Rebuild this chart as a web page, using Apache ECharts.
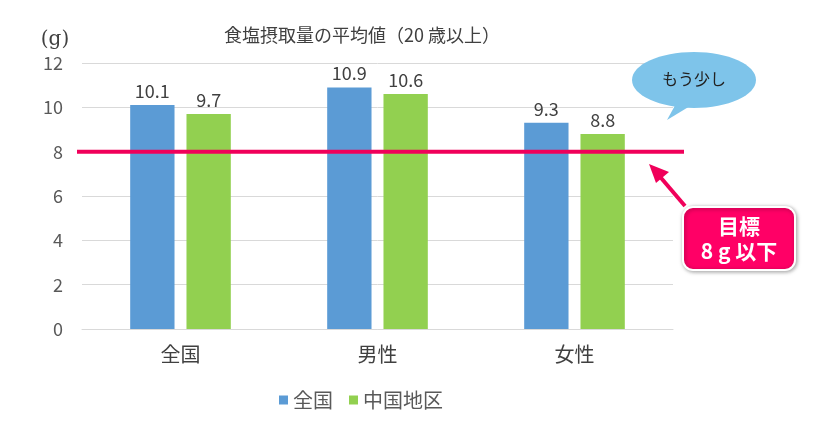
<!DOCTYPE html>
<html><head><meta charset="utf-8">
<script src="https://cdn.jsdelivr.net/npm/echarts@6/dist/echarts.min.js"></script>
<style>html,body{margin:0;padding:0;background:#fff}#c{width:835px;height:424px}</style>
</head><body><div id="c"></div>
<script>
const categories = ['全国', '男性', '女性'];
const nationalValues = [10.1, 10.9, 9.3];
const chugokuValues = [9.7, 10.6, 8.8];
const seriesNames = ['全国', '中国地区'];
const targetValue = 8;
const yTicks = [0, 2, 4, 6, 8, 10, 12];

const FONT = '"Noto Sans CJK JP", "Noto Sans", sans-serif';
const chart = echarts.init(document.getElementById('c'));
const option = {
  animation: false,
  textStyle: { fontFamily: FONT },
  title: {
    text: '食塩摂取量の平均値（20 歳以上）',
    left: 357, top: 21, textAlign: 'center',
    textStyle: { fontSize: 18, fontWeight: 'normal', color: '#404040', fontFamily: FONT }
  },
  legend: {
    data: seriesNames, top: 385, left: 274, itemWidth: 9, itemHeight: 9, itemGap: 16,
    icon: 'rect',
    textStyle: { fontSize: 20, color: '#595959', fontFamily: FONT }
  },
  grid: { left: 82, right: 162, top: 63, bottom: 95 },
  xAxis: {
    type: 'category', data: categories,
    axisLine: { lineStyle: { color: '#D9D9D9' } },
    axisTick: { show: false },
    axisLabel: { fontSize: 20, color: '#404040', margin: 15, fontFamily: FONT }
  },
  yAxis: {
    type: 'value', min: yTicks[0], max: yTicks[yTicks.length - 1], interval: 2,
    axisLine: { show: false }, axisTick: { show: false },
    splitLine: { lineStyle: { color: '#D9D9D9' } },
    axisLabel: { fontSize: 18, color: '#595959', margin: 19, fontFamily: FONT }
  },
  series: [
    { name: seriesNames[0], type: 'bar', data: nationalValues, barWidth: '22.5%', barGap: '27%',
      itemStyle: { color: '#5B9BD5' },
      label: { show: true, position: 'top', fontSize: 18, color: '#404040', distance: 5 } },
    { name: seriesNames[1], type: 'bar', data: chugokuValues, barWidth: '22.5%',
      itemStyle: { color: '#92D050' },
      label: { show: true, position: 'top', fontSize: 18, color: '#404040', distance: 5 } }
  ]
};
chart.setOption(option);

const yPix = chart.convertToPixel({ yAxisIndex: 0 }, targetValue);
const gLeft = 82, gRight = 835 - 162;
chart.setOption({
  graphic: [
    { type: 'line', shape: { x1: gLeft - 5, y1: yPix, x2: gRight + 11, y2: yPix },
      style: { stroke: '#F0005A', lineWidth: 4 }, z: 10 },
    { type: 'text', x: 55, y: 40, style: { text: '(g)', fontSize: 20, fill: '#404040', align: 'center', verticalAlign: 'middle', fontFamily: '"DejaVu Serif", "Liberation Serif", serif' } },
    // speech bubble
    { type: 'polygon', shape: { points: [[678, 100], [700, 100], [667, 120]] },
      style: { fill: '#7EC4EA' }, z: 10 },
    { type: 'ellipse', shape: { cx: 694, cy: 80, rx: 62, ry: 28 },
      style: { fill: '#7EC4EA' }, z: 11 },
    { type: 'text', x: 694, y: 79, z: 12,
      style: { text: 'もう少し', fontSize: 16, fill: '#222', align: 'center', verticalAlign: 'middle', fontFamily: FONT } },
    // arrow
    { type: 'line', shape: { x1: 685, y1: 206, x2: 656, y2: 172 },
      style: { stroke: '#F0005A', lineWidth: 4 }, z: 10 },
    { type: 'polygon', shape: { points: [[649, 164], [669, 172], [656, 183]] },
      style: { fill: '#F0005A' }, z: 10 },
    // callout box
    { type: 'rect', shape: { x: 683, y: 207, width: 112, height: 63, r: 10 },
      style: { fill: '#FF0066', stroke: '#fff', lineWidth: 2, shadowBlur: 4, shadowColor: 'rgba(0,0,0,0.35)', shadowOffsetX: 1, shadowOffsetY: 1 }, z: 12 },
    { type: 'text', x: 739, y: 226, z: 13,
      style: { text: '目標', fontSize: 21, fontWeight: 'bold', fill: '#fff', align: 'center', verticalAlign: 'middle', fontFamily: FONT } },
    { type: 'text', x: 739, y: 251, z: 13,
      style: { text: '8 g 以下', fontSize: 21, fontWeight: 'bold', fill: '#fff', align: 'center', verticalAlign: 'middle', fontFamily: FONT } }
  ]
});
</script></body></html>
